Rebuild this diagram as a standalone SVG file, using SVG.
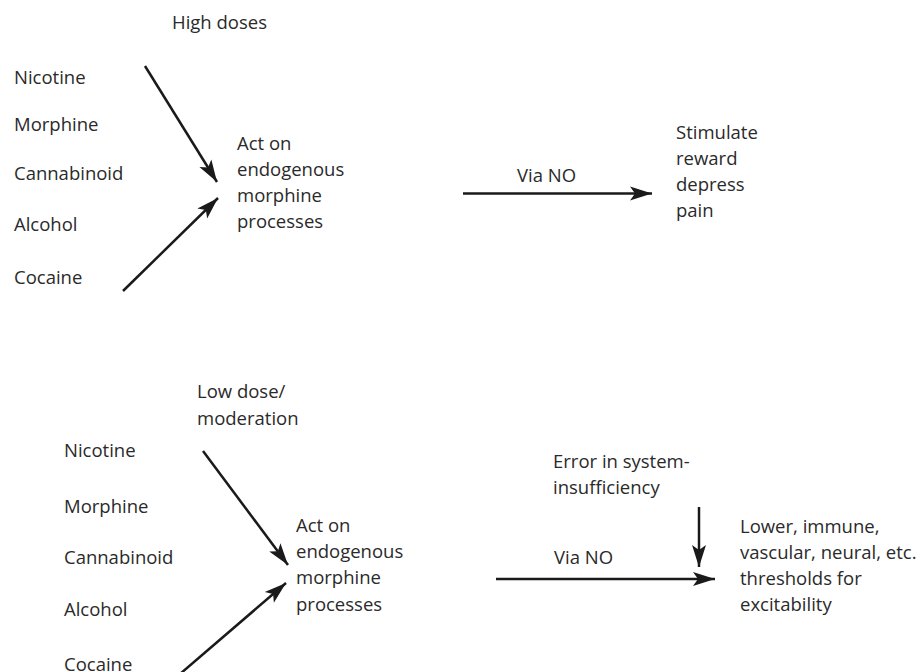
<svg xmlns="http://www.w3.org/2000/svg" width="920" height="672" viewBox="0 0 920 672">
<style>
text{font-family:"Open Sans","Noto Sans","Liberation Sans",sans-serif;font-size:18.5px;fill:#2a2a2a}
.c{stroke:#1a1a1a;stroke-width:2.5;fill:none}
</style>
<defs>
<marker id="ah" markerUnits="userSpaceOnUse" markerWidth="24" markerHeight="16" refX="22" refY="7" orient="auto" overflow="visible">
<path d="M0,0 L22,7 L0,14 L5,7 z" fill="#1a1a1a"/>
</marker>
</defs>
<rect width="920" height="672" fill="#fff"/>
<g id="top-dose"><text x="172" y="29">High doses</text></g>
<g id="top-drugs">
<text x="14" y="84">Nicotine</text>
<text x="14" y="131">Morphine</text>
<text x="14" y="180">Cannabinoid</text>
<text x="14" y="231">Alcohol</text>
<text x="14" y="284">Cocaine</text>
</g>
<g id="top-act">
<text x="237" y="150">Act on</text>
<text x="237" y="176">endogenous</text>
<text x="237" y="202">morphine</text>
<text x="237" y="228">processes</text>
</g>
<g id="top-vianno"><text x="517" y="182">Via NO</text></g>
<g id="top-result">
<text x="676" y="139">Stimulate</text>
<text x="676" y="165">reward</text>
<text x="676" y="191">depress</text>
<text x="676" y="217">pain</text>
</g>
<g id="bot-dose">
<text x="197" y="398">Low dose/</text>
<text x="197" y="425">moderation</text>
</g>
<g id="bot-drugs">
<text x="64" y="457">Nicotine</text>
<text x="64" y="513">Morphine</text>
<text x="64" y="564">Cannabinoid</text>
<text x="64" y="616">Alcohol</text>
<text x="64" y="671">Cocaine</text>
</g>
<g id="bot-act">
<text x="296" y="532">Act on</text>
<text x="296" y="558">endogenous</text>
<text x="296" y="584">morphine</text>
<text x="296" y="611">processes</text>
</g>
<g id="bot-error">
<text x="553" y="468">Error in system-</text>
<text x="553" y="494">insufficiency</text>
</g>
<g id="bot-vianno"><text x="554" y="564">Via NO</text></g>
<g id="bot-result">
<text x="740" y="533">Lower, immune,</text>
<text x="740" y="559">vascular, neural, etc.</text>
<text x="740" y="585">thresholds for</text>
<text x="740" y="611">excitability</text>
</g>
<g id="connectors">
<line class="c" x1="145" y1="66" x2="217" y2="182" marker-end="url(#ah)"/>
<line class="c" x1="123" y1="291" x2="218" y2="198" marker-end="url(#ah)"/>
<line class="c" x1="463" y1="193.5" x2="652" y2="193.5" marker-end="url(#ah)"/>
<line class="c" x1="203" y1="451" x2="288" y2="565" marker-end="url(#ah)"/>
<line class="c" x1="180" y1="674" x2="286" y2="583" marker-end="url(#ah)"/>
<line class="c" x1="699" y1="507" x2="699" y2="567" marker-end="url(#ah)"/>
<line class="c" x1="496" y1="579" x2="715" y2="579" marker-end="url(#ah)"/>
</g>
</svg>
